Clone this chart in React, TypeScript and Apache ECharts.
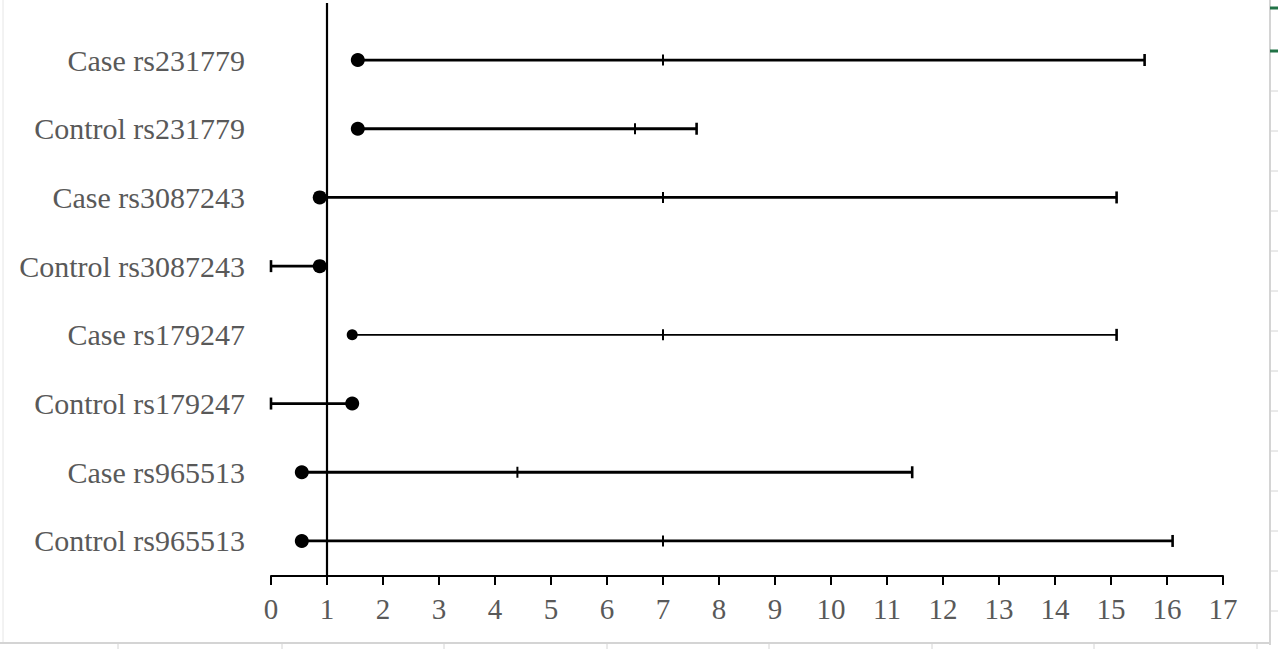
import React, { useEffect, useRef } from "react";
import * as echarts from "echarts";

const labels = [
  "Case rs231779",
  "Control rs231779",
  "Case rs3087243",
  "Control rs3087243",
  "Case rs179247",
  "Control rs179247",
  "Case rs965513",
  "Control rs965513",
];
const estimates = [1.55, 1.55, 0.87, 0.87, 1.45, 1.45, 0.55, 0.55];
const lowerCI = [1.55, 1.55, 0.87, 0, 1.45, 0, 0.55, 0.55];
const upperCI = [15.6, 7.6, 15.1, 0.87, 15.1, 1.45, 11.45, 16.1];
const midMarks = [7, 6.5, 7, NaN, 7, NaN, 4.4, 7];
const xTicks = [0, 17];
const refValue = 1;

const THIN_ROW = 4;
const FONT = "'Liberation Serif', 'Times New Roman', serif";

export default function App() {
  const ref = useRef<HTMLDivElement>(null);
  useEffect(() => {
    if (!ref.current) return;
    const chart = echarts.init(ref.current, null, { renderer: "svg" });

    const barData = labels.map((_, i) => [i, lowerCI[i], upperCI[i], midMarks[i], estimates[i]]);
    const pointData = labels.map((_, i) => ({
      value: [estimates[i], i],
      symbolSize: i === THIN_ROW ? 11 : 14,
    }));

    const frame: any[] = [];
    frame.push({ type: "line", shape: { x1: 3, y1: 0, x2: 3, y2: 643 }, style: { stroke: "#e6e6e6", lineWidth: 1 } });
    frame.push({ type: "line", shape: { x1: 0, y1: 643, x2: 1270, y2: 643 }, style: { stroke: "#d4d4d4", lineWidth: 2 } });
    frame.push({ type: "line", shape: { x1: 1270, y1: 0, x2: 1270, y2: 645 }, style: { stroke: "#d4d4d4", lineWidth: 2 } });
    [118, 282, 444, 607, 769, 932, 1094, 1257].forEach((x) =>
      frame.push({ type: "line", shape: { x1: x, y1: 643, x2: x, y2: 649 }, style: { stroke: "#d4d4d4", lineWidth: 1 } })
    );
    for (let y = 91; y <= 611; y += 40) {
      frame.push({ type: "line", shape: { x1: 1270, y1: y, x2: 1278, y2: y }, style: { stroke: "#d4d4d4", lineWidth: 1 } });
    }
    frame.push({ type: "line", shape: { x1: 1270, y1: 8, x2: 1278, y2: 8 }, style: { stroke: "#217346", lineWidth: 3 } });
    frame.push({ type: "line", shape: { x1: 1270, y1: 51, x2: 1278, y2: 51 }, style: { stroke: "#217346", lineWidth: 3 } });

    chart.setOption({
      animation: false,
      backgroundColor: "#ffffff",
      grid: { left: 271, right: 57, top: 3, bottom: 78, containLabel: false },
      xAxis: {
        type: "value",
        min: xTicks[0],
        max: xTicks[1],
        interval: 1,
        axisLine: { show: true, onZero: false, lineStyle: { color: "#000", width: 2 } },
        axisTick: { show: true, length: 9, lineStyle: { color: "#000", width: 2 } },
        axisLabel: { color: "#595959", fontFamily: FONT, fontSize: 29, margin: 18 },
        splitLine: { show: false },
      },
      yAxis: {
        type: "value",
        inverse: true,
        min: -0.83,
        max: 7.51,
        axisLine: { show: false, onZero: false },
        axisTick: { show: false },
        splitLine: { show: false },
        axisLabel: {
          customValues: labels.map((_, i) => i),
          formatter: (v: number) => labels[Math.round(v)] ?? "",
          color: "#595959",
          fontFamily: FONT,
          fontSize: 30,
          margin: 26,
        },
      },
      graphic: frame,
      series: [
        {
          type: "custom",
          data: barData,
          encode: { x: [1, 2, 3, 4], y: 0 },
          clip: false,
          renderItem: (params: any, api: any) => {
            const row = api.value(0);
            const lo = api.value(1);
            const hi = api.value(2);
            const mid = api.value(3);
            const est = api.value(4);
            const lw = row === THIN_ROW ? 1.8 : 2.8;
            const pLo = api.coord([lo, row]);
            const pHi = api.coord([hi, row]);
            const y = pLo[1];
            const cap = 6;
            const children: any[] = [
              { type: "line", shape: { x1: pLo[0], y1: y, x2: pHi[0], y2: y }, style: { stroke: "#000", lineWidth: lw } },
            ];
            if (lo < est) {
              children.push({ type: "line", shape: { x1: pLo[0], y1: y - cap, x2: pLo[0], y2: y + cap }, style: { stroke: "#000", lineWidth: 2.6 } });
            }
            if (hi > est) {
              children.push({ type: "line", shape: { x1: pHi[0], y1: y - cap, x2: pHi[0], y2: y + cap }, style: { stroke: "#000", lineWidth: 2.6 } });
            }
            if (!isNaN(mid)) {
              const pm = api.coord([mid, row]);
              children.push({ type: "line", shape: { x1: pm[0], y1: y - 5.5, x2: pm[0], y2: y + 5.5 }, style: { stroke: "#000", lineWidth: 2 } });
            }
            return { type: "group", children };
          },
          z: 3,
        },
        {
          type: "scatter",
          data: pointData,
          symbol: "circle",
          itemStyle: { color: "#000", opacity: 1 },
          z: 4,
          markLine: {
            silent: true,
            symbol: ["none", "none"],
            label: { show: false },
            lineStyle: { color: "#000", width: 2.2, type: "solid", opacity: 1 },
            data: [{ xAxis: refValue }],
          },
        },
      ],
    });
    return () => chart.dispose();
  }, []);

  return (
    <div
      ref={ref}
      style={{ position: "fixed", left: 0, top: 0, width: 1280, height: 654, background: "#fff" }}
    />
  );
}
